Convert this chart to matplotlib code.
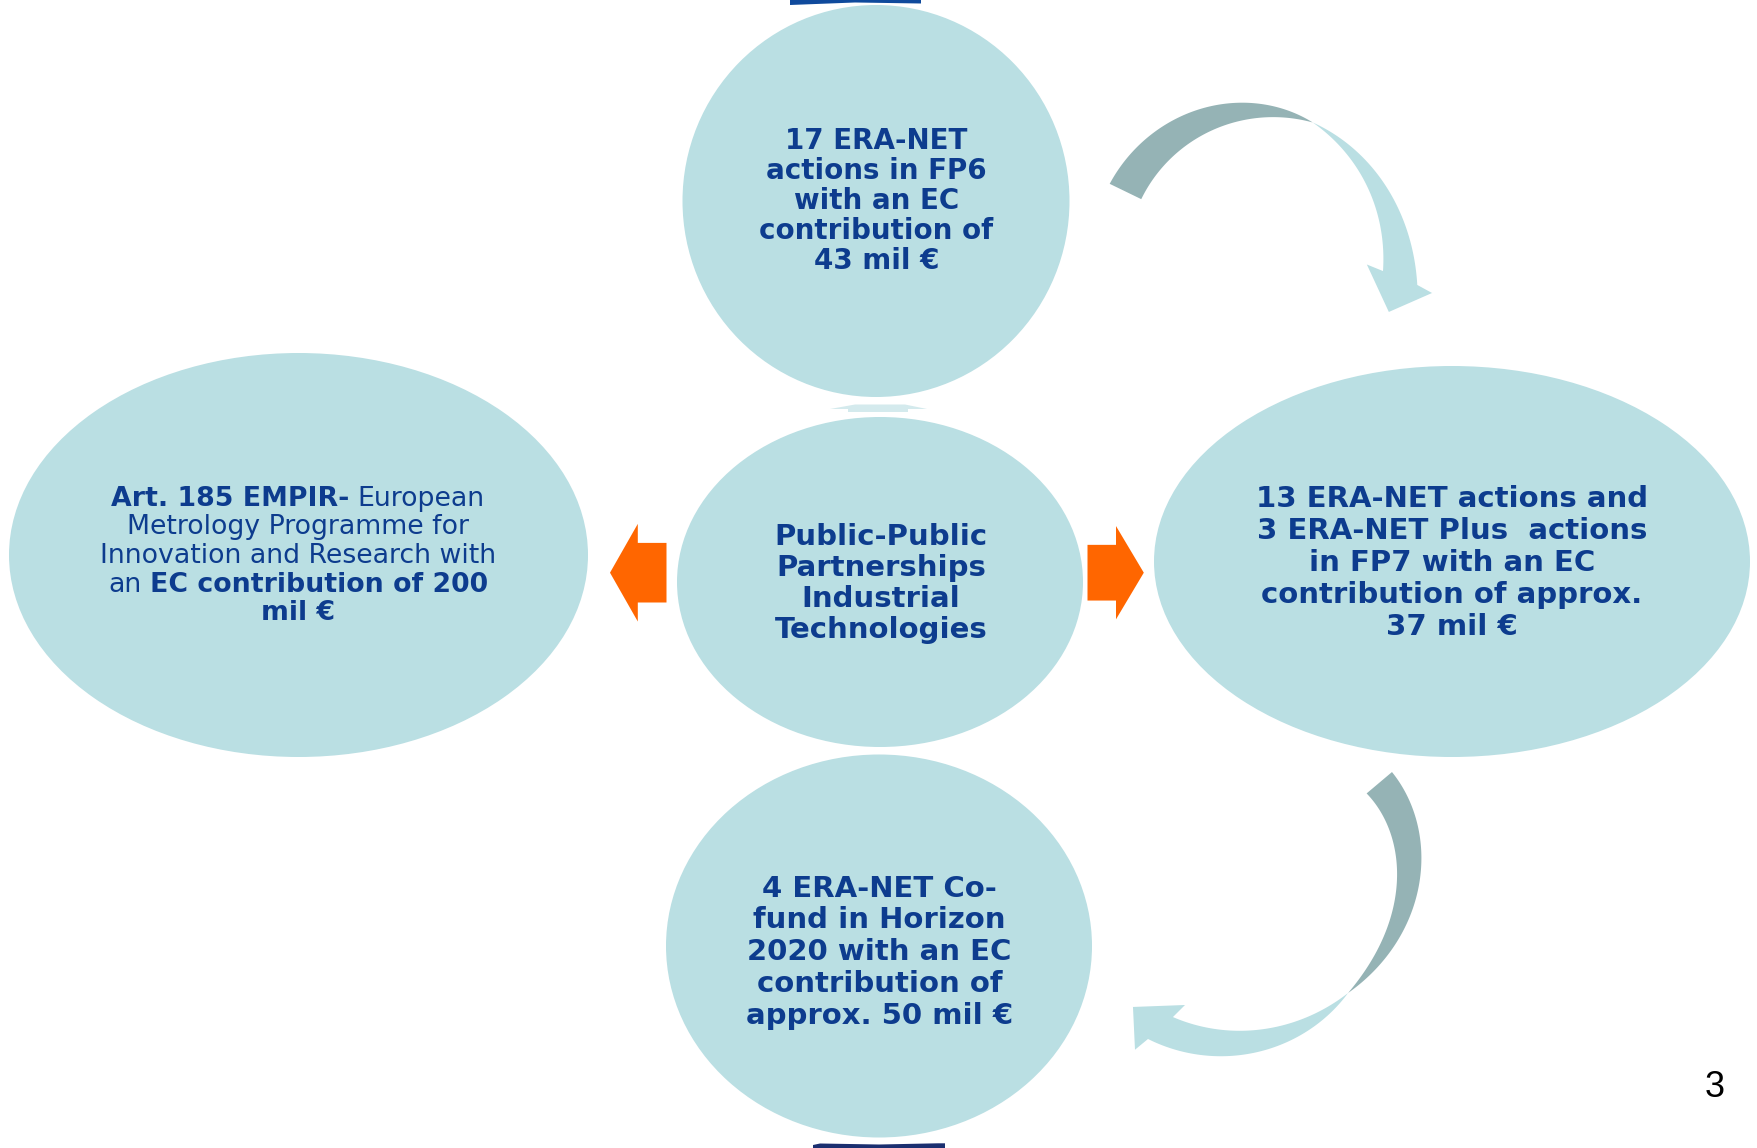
import numpy as np
import matplotlib.pyplot as plt
from matplotlib.patches import Ellipse, Polygon

# ---- texts of the diagram nodes ----
top_lines = ["17 ERA-NET", "actions in FP6", "with an EC", "contribution of", "43 mil €"]
center_lines = ["Public-Public", "Partnerships", "Industrial", "Technologies"]
right_lines = ["13 ERA-NET actions and", "3 ERA-NET Plus  actions",
               "in FP7 with an EC", "contribution of approx.", "37 mil €"]
bottom_lines = ["4 ERA-NET Co-", "fund in Horizon", "2020 with an EC",
                "contribution of", "approx. 50 mil €"]
# left node mixes bold and normal runs: (text, bold)
left_lines = [
    [("Art. 185 EMPIR-", True), (" European", False)],
    [("Metrology Programme for", False)],
    [("Innovation and Research with", False)],
    [("an ", False), ("EC contribution of 200", True)],
    [("mil €", True)],
]
page_number = "3"

LIGHT = '#BADFE3'
DARK = '#95B3B5'
BLUE = '#0D3C8E'
ORANGE = '#FF6600'
W, H = 1757, 1148


def polar_pts(c, theta, r):
    """Points around centre c (image coords, y down) for angles in degrees."""
    t = np.radians(theta)
    return np.column_stack([c[0] + r * np.cos(t), c[1] - r * np.sin(t)])


def edge(c, th_keys, r_keys, n=100):
    """Smooth edge: low order polynomial r(theta) through the key points."""
    th_keys = np.asarray(th_keys, float)
    r_keys = np.asarray(r_keys, float)
    th = np.linspace(th_keys[0], th_keys[-1], n)
    deg = min(3, len(th_keys) - 2)
    coef = np.polyfit(th_keys, r_keys, deg)
    r = np.polyval(coef, th)
    # keep the ends exactly where they were read
    r += np.interp(th, [th[0], th[-1]] if th[0] < th[-1] else [th[-1], th[0]],
                   [r_keys[0] - r[0], r_keys[-1] - r[-1]] if th[0] < th[-1]
                   else [r_keys[-1] - r[-1], r_keys[0] - r[0]])
    return polar_pts(c, th, r)


def band(ax, c, outer, inner, color, head=None):
    """Curved ribbon between two edges, optional arrow head (3 polar pts)."""
    o = edge(c, *outer)
    i = edge(c, *inner)
    parts = [o]
    if head is not None:
        parts.append(polar_pts(c, np.array([h[0] for h in head]),
                               np.array([h[1] for h in head])))
    parts.append(i[::-1])
    ax.add_patch(Polygon(np.vstack(parts), closed=True, fc=color, ec='none'))


def block_arrow(ax, x_tail, x_base, x_tip, y, shaft_h, head_h):
    pts = [(x_tail, y - shaft_h / 2), (x_base, y - shaft_h / 2),
           (x_base, y - head_h / 2), (x_tip, y), (x_base, y + head_h / 2),
           (x_base, y + shaft_h / 2), (x_tail, y + shaft_h / 2)]
    ax.add_patch(Polygon(pts, closed=True, fc=ORANGE, ec='none'))


def draw_block(ax, lines, cx, y0, pitch, size):
    for k, s in enumerate(lines):
        ax.text(cx, y0 + k * pitch, s, ha='center', va='baseline',
                fontsize=size, fontweight='bold', color=BLUE,
                family='DejaVu Sans')


def text_width(ax, renderer, s, size, bold):
    t = ax.text(0, 0, s, fontsize=size, fontweight='bold' if bold else 'normal',
                family='DejaVu Sans')
    w = t.get_window_extent(renderer).width
    t.remove()
    return w


def draw_mixed(ax, renderer, lines, cx, y0, pitch, size):
    for k, runs in enumerate(lines):
        pieces = []
        for s, bold in runs:
            lead = len(s) - len(s.lstrip(' '))
            trail = len(s) - len(s.rstrip(' '))
            core = s.strip(' ')
            sp = (text_width(ax, renderer, 'a a', size, bold)
                  - text_width(ax, renderer, 'aa', size, bold))
            pieces.append((core, bold, lead * sp, text_width(ax, renderer, core, size, bold), trail * sp))
        total = sum(p[2] + p[3] + p[4] for p in pieces)
        x = cx - total / 2
        for core, bold, lsp, w, tsp in pieces:
            x += lsp
            ax.text(x, y0 + k * pitch, core, ha='left', va='baseline',
                    fontsize=size, fontweight='bold' if bold else 'normal',
                    color=BLUE, family='DejaVu Sans')
            x += w + tsp


fig = plt.figure(figsize=(W / 100, H / 100), dpi=100)
ax = fig.add_axes([0, 0, 1, 1])
ax.set_xlim(0, W)
ax.set_ylim(H, 0)
ax.axis('off')
renderer = fig.canvas.get_renderer()

# slide decorations cut at top and bottom edge
ax.add_patch(Polygon([(790, 0), (921, 0), (921, 3.5), (855, 2.5), (790, 5)],
                     closed=True, fc='#0F4A9C', ec='none'))
ax.add_patch(Polygon([(813, H), (813, 1145), (820, 1143.5), (879, 1144.5),
                      (938, 1143.3), (945, 1143.3), (945, H)],
                     closed=True, fc='#1B2F70', ec='none'))

# nodes
for cx, cy, w, h in [(876, 201, 387, 392), (880, 582, 406, 330),
                     (298.5, 555, 579, 404), (1452, 561.5, 596, 391),
                     (879, 946, 426, 383)]:
    ax.add_patch(Ellipse((cx, cy), w, h, fc=LIGHT, ec='none'))

# small connector between top node and centre
ax.add_patch(Polygon([(830, 409), (855, 404.5), (905, 404.5), (927, 409),
                      (908, 409), (908, 412), (848, 412), (848, 409)],
                     closed=True, fc='#D4EAED', ec='none'))

# orange arrows from centre
block_arrow(ax, 666.5, 637.8, 610, 572.7, 59.6, 97.7)
block_arrow(ax, 1087.5, 1116, 1143.8, 572.7, 55.7, 93.3)

# curved arrow top -> right
c1 = (1262, 270)
band(ax, c1, ([150.5, 120, 98, 86, 71], [175, 174, 169, 164, 156]),
     ([149.6, 120, 98, 86, 71], [140, 146, 151, 153, 156]), DARK)
band(ax, c1, ([71, 62, 48, 25, 2.5, -5.5], [156, 154, 152, 149, 155, 156]),
     ([71, 62, 42, 23, 0, -0.5], [156, 151, 135.5, 128, 121, 121]), LIGHT,
     head=[(-7.7, 171.6), (-18.3, 133.6), (3, 105)])

# curved arrow right -> bottom
c2 = (1225, 870)
band(ax, c2, ([30.4, 18, 4.9, -12, -23.5, -45], [193.6, 194.5, 197.7, 192.5, 183.6, 174]),
     ([28.4, 18.6, -2.2, -13.4, -25.3, -45], [161, 167, 171.8, 173, 171.5, 174]), DARK)
band(ax, c2, ([-45, -66, -93.7, -114.5], [174, 182.8, 185.4, 185.7]),
     ([-45, -63, -84.7, -109.5], [174, 165, 163.4, 156]), LIGHT,
     head=[(-116.6, 201), (-123.9, 165), (-106.5, 140.8)])

# texts
draw_block(ax, top_lines, 876.5, 149.3, 30, 20)
draw_block(ax, center_lines, 881, 545, 31, 21)
draw_block(ax, right_lines, 1452, 506.7, 32, 21)
draw_block(ax, bottom_lines, 879.3, 896.7, 31.7, 21)
draw_mixed(ax, renderer, left_lines, 298, 505.7, 28.6, 19.3)

ax.text(1715, 1097, page_number, ha='center', va='baseline', fontsize=26,
        family='Liberation Sans', color='black')

fig.savefig('out.png', dpi=100)
